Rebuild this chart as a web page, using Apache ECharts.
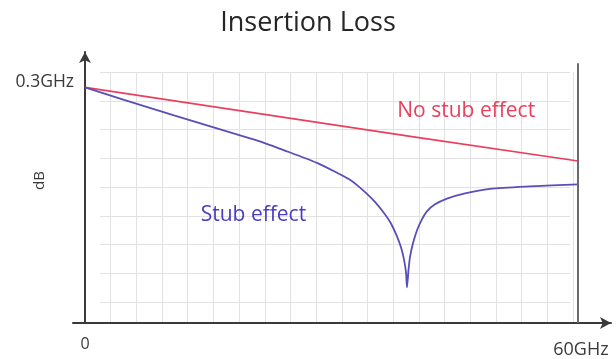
<!DOCTYPE html>
<html>
<head>
<meta charset="utf-8">
<script src="https://cdn.jsdelivr.net/npm/echarts@6/dist/echarts.min.js"></script>
<style>
  html, body { margin: 0; padding: 0; background: #ffffff; }
  #chart { width: 616px; height: 359px; }
</style>
</head>
<body>
<div id="chart"></div>
<script>
// Frequency axis (GHz) and insertion loss (dB, relative to the 0.3 GHz start point)
const freqNoStub = [0, 20, 40, 60];
const lossNoStub = [0, -2.1, -4.2, -6.25];

const freqStub = [0, 4.75, 10.83, 16.06, 20.08, 21.78, 24.1, 28.24, 31.03, 32.25, 33.22, 34.32, 35.29,
                  36.27, 37.12, 37.97, 38.46, 38.82, 39.07, 39.19, 39.37, 39.55, 39.92, 40.41, 41.01,
                  41.62, 42.6, 44.06, 46.25, 49.29, 54.16, 60];
const lossStub = [0, -1.06, -2.38, -3.48, -4.33, -4.71, -5.3, -6.41, -7.38, -7.85, -8.36, -9.04, -9.72,
                  -10.56, -11.41, -12.64, -13.58, -14.6, -15.7, -16.97, -15.53, -14.43, -13.24, -12.13, -11.2,
                  -10.52, -9.93, -9.44, -8.99, -8.61, -8.4, -8.23];

const xTickValues = [0, 60];
const xTickLabels = ['0', '60GHz'];
const yTickValues = [0];
const yTickLabels = ['0.3GHz'];

const seriesNames = ['No stub effect', 'Stub effect'];
const labelSpots = { 'No stub effect': [46.4, -2.04], 'Stub effect': [20.5, -10.82] };
const endMarker = { freq: 60, top: 2.04, bottom: -20 };

const font = 'Open Sans';
const red = '#e8415e';
const blue = '#5a4fb6';

const pairs = (xs, ys) => xs.map((x, i) => [x, ys[i]]);

const chart = echarts.init(document.getElementById('chart'), null, { renderer: 'canvas' });

const gridLineStyle = { color: '#e2e2e2', width: 1 };

chart.setOption({
  backgroundColor: '#ffffff',
  animation: false,
  title: {
    text: 'Insertion Loss',
    left: 'center',
    top: 5,
    textStyle: { fontFamily: font, fontSize: 27, fontWeight: 'normal', color: '#262626' }
  },
  grid: [
    { left: 73, right: 5, top: 52, bottom: 36, outerBoundsMode: 'none' },          // main plot
    { left: 85, top: 72, width: 488, height: 250, outerBoundsMode: 'none' },        // vertical guide lines
    { left: 100, top: 72, width: 470, height: 230, outerBoundsMode: 'none' }        // horizontal guide lines
  ],
  xAxis: [
    {
      type: 'value', gridIndex: 0, min: -1.46, max: 64.02,
      axisLine: { show: true, onZero: false, symbol: ['none', 'arrow'], symbolSize: [9, 11],
                  lineStyle: { color: '#3a3a3a', width: 2 } },
      axisTick: { show: false },
      splitLine: { show: false },
      axisLabel: {
        customValues: xTickValues,
        margin: 13,
        formatter: v => {
          const i = xTickValues.indexOf(v);
          if (i < 0) return '';
          return i === 0 ? '{a|' + xTickLabels[i] + '}' : '{b|' + xTickLabels[i] + '}';
        },
        rich: {
          a: { fontFamily: font, fontSize: 16, color: '#3a3a3a' },
          b: { fontFamily: font, fontSize: 18, color: '#3a3a3a', padding: [5, 0, 0, 6] }
        }
      }
    },
    {
      type: 'value', gridIndex: 1, min: 0, max: 19, interval: 1,
      axisLine: { show: false }, axisTick: { show: false }, axisLabel: { show: false },
      splitLine: { show: true, lineStyle: gridLineStyle }
    },
    { type: 'value', gridIndex: 2, min: 0, max: 1, show: false }
  ],
  yAxis: [
    {
      type: 'value', gridIndex: 0, min: -20, max: 3,
      name: 'dB', nameLocation: 'middle', nameRotate: 90, nameGap: 26, nameMoveOverlap: false,
      nameTextStyle: { fontFamily: font, fontSize: 15, color: '#3a3a3a', padding: [0, 0, 0, 14] },
      axisLine: { show: true, onZero: true, symbol: ['none', 'arrow'], symbolSize: [9, 11],
                  lineStyle: { color: '#3a3a3a', width: 2 } },
      axisTick: { show: false },
      splitLine: { show: false },
      axisLabel: {
        customValues: yTickValues,
        margin: -1,
        formatter: v => {
          const i = yTickValues.indexOf(v);
          return i < 0 ? '' : '{a|' + yTickLabels[i] + '}';
        },
        rich: { a: { fontFamily: font, fontSize: 17.5, color: '#3a3a3a', padding: [0, 0, 11, 0] } }
      }
    },
    { type: 'value', gridIndex: 1, min: 0, max: 1, show: false },
    {
      type: 'value', gridIndex: 2, min: 0, max: 8, interval: 1,
      axisLine: { show: false }, axisTick: { show: false }, axisLabel: { show: false },
      splitLine: { show: true, lineStyle: gridLineStyle }
    }
  ],
  series: [
    {
      name: seriesNames[0],
      type: 'line',
      xAxisIndex: 0, yAxisIndex: 0,
      data: pairs(freqNoStub, lossNoStub),
      showSymbol: false,
      clip: false,
      lineStyle: { color: red, width: 1.6 },
      z: 3,
      markPoint: {
        symbol: 'circle', symbolSize: 1, silent: true,
        itemStyle: { color: 'rgba(0,0,0,0)' },
        label: { show: true, position: 'inside', formatter: '{b}',
                 fontFamily: font, fontSize: 21, color: red },
        data: [{ name: seriesNames[0], coord: labelSpots[seriesNames[0]] }]
      },
      markLine: {
        silent: true, symbol: ['none', 'none'],
        label: { show: false },
        lineStyle: { color: '#6a6a6a', width: 2, type: 'solid' },
        data: [[{ coord: [endMarker.freq, endMarker.top] }, { coord: [endMarker.freq, endMarker.bottom] }]]
      }
    },
    {
      name: seriesNames[1],
      type: 'line',
      xAxisIndex: 0, yAxisIndex: 0,
      data: pairs(freqStub, lossStub),
      showSymbol: false,
      smooth: 0.25,
      lineStyle: { color: blue, width: 1.8 },
      z: 3,
      markPoint: {
        symbol: 'circle', symbolSize: 1, silent: true,
        itemStyle: { color: 'rgba(0,0,0,0)' },
        label: { show: true, position: 'inside', formatter: '{b}',
                 fontFamily: font, fontSize: 21, color: '#4a3dc2' },
        data: [{ name: seriesNames[1], coord: labelSpots[seriesNames[1]] }]
      }
    }
  ]
});
</script>
</body>
</html>
